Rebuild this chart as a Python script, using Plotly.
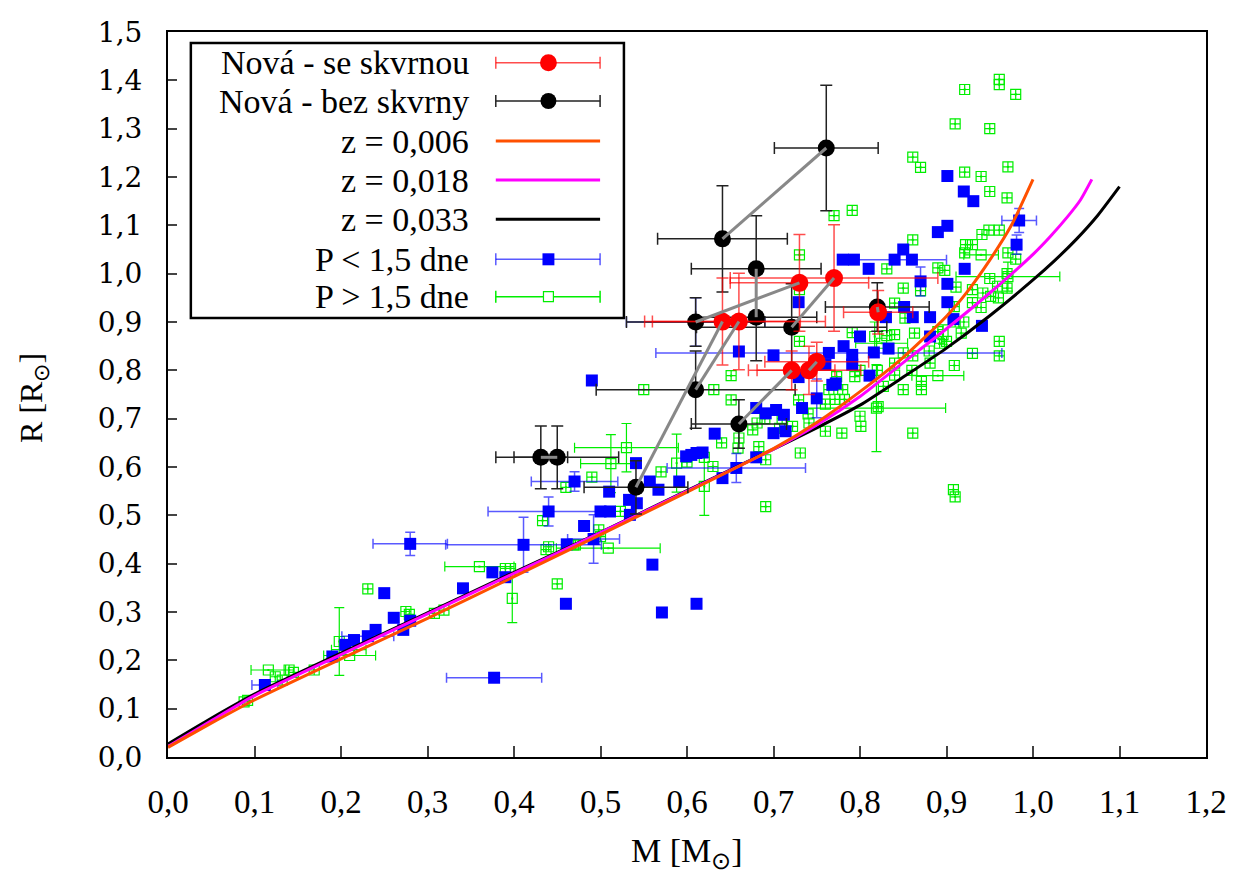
import plotly.graph_objects as go

# ---------------- data ----------------
# "Nová - se skvrnou" (red)
red_m = [0.730, 0.770, 0.641, 0.660, 0.821, 0.721, 0.741, 0.750]
red_r = [0.981, 0.991, 0.901, 0.901, 0.920, 0.800, 0.800, 0.818]
red_em = [0.08, 0.12, 0.09, 0.10, 0.04, 0.05, 0.06, 0.06]
red_er = [0.10, 0.11, 0.09, 0.10, 0.045, 0.04, 0.05, 0.04]

# "Nová - bez skvrny" (black)
blk_m = [0.761, 0.641, 0.680, 0.680, 0.610, 0.721, 0.820, 0.610, 0.660, 0.431, 0.450, 0.541]
blk_r = [1.260, 1.072, 1.010, 0.910, 0.900, 0.889, 0.931, 0.760, 0.689, 0.620, 0.620, 0.558]
blk_em = [0.06, 0.075, 0.075, 0.07, 0.08, 0.11, 0.06, 0.115, 0.055, 0.031, 0.071, 0.06]
blk_er = [0.13, 0.11, 0.11, 0.09, 0.05, 0.09, 0.05, 0.08, 0.05, 0.065, 0.065, 0.055]

# grey connections (series, index) -> (series, index)
links = [("b", 0, "b", 1), ("b", 2, "b", 3), ("b", 4, "r", 0), ("b", 5, "r", 1),
         ("r", 2, "b", 11), ("r", 3, "b", 7), ("b", 8, "r", 5), ("r", 6, "r", 7),
         ("b", 9, "b", 10), ("b", 6, "r", 4)]

# model isochrones
z006_m = [0.0, 0.05, 0.1, 0.2, 0.3, 0.4, 0.5, 0.6, 0.7, 0.75, 0.8, 0.85, 0.9, 0.925, 0.95, 0.975, 1.0]
z006_r = [0.020, 0.070, 0.118, 0.203, 0.287, 0.373, 0.460, 0.548, 0.638, 0.692, 0.756, 0.827, 0.912, 0.965, 1.028, 1.100, 1.195]
z018_m = [0.0, 0.05, 0.1, 0.2, 0.3, 0.4, 0.5, 0.6, 0.7, 0.75, 0.8, 0.85, 0.9, 0.95, 1.0, 1.02, 1.04, 1.055, 1.068]
z018_r = [0.022, 0.075, 0.127, 0.212, 0.296, 0.380, 0.464, 0.550, 0.637, 0.687, 0.746, 0.816, 0.886, 0.960, 1.040, 1.077, 1.118, 1.153, 1.195]
z033_m = [0.0, 0.05, 0.1, 0.2, 0.3, 0.4, 0.5, 0.6, 0.7, 0.75, 0.8, 0.85, 0.9, 0.95, 1.0, 1.025, 1.05, 1.075, 1.1]
z033_r = [0.027, 0.080, 0.130, 0.215, 0.298, 0.382, 0.465, 0.551, 0.637, 0.681, 0.728, 0.786, 0.846, 0.913, 0.987, 1.027, 1.071, 1.121, 1.180]

# P < 1,5 dne (blue)
blue_m = [0.112, 0.190, 0.205, 0.215, 0.231, 0.240, 0.250, 0.261, 0.272, 0.280, 0.280, 0.341, 0.375, 0.390,
          0.377, 0.411, 0.440, 0.461, 0.460, 0.470, 0.481, 0.492, 0.500, 0.511, 0.510, 0.490, 0.533, 0.542,
          0.541, 0.557, 0.560, 0.567, 0.571, 0.591, 0.599, 0.605, 0.611, 0.618, 0.611, 0.632, 0.641, 0.657,
          0.680, 0.680, 0.691, 0.700, 0.703, 0.712, 0.714, 0.660, 0.700, 0.729, 0.729, 0.733, 0.750, 0.760,
          0.764, 0.768, 0.772, 0.781, 0.791, 0.791, 0.800, 0.811, 0.816, 0.780, 0.793, 0.810, 0.833, 0.830,
          0.840, 0.850, 0.860, 0.851, 0.861, 0.870, 0.881, 0.881, 0.890, 0.901, 0.901, 0.920, 0.931, 0.901,
          0.901, 0.908, 0.921, 0.941, 0.984, 0.981, 0.610, 0.534]
blue_r = [0.149, 0.208, 0.232, 0.242, 0.250, 0.263, 0.339, 0.288, 0.263, 0.282, 0.441, 0.349, 0.382, 0.372,
          0.164, 0.439, 0.508, 0.440, 0.317, 0.570, 0.478, 0.451, 0.508, 0.508, 0.549, 0.779, 0.532, 0.525,
          0.608, 0.570, 0.398, 0.553, 0.299, 0.570, 0.622, 0.625, 0.629, 0.630, 0.317, 0.669, 0.577, 0.598,
          0.620, 0.722, 0.711, 0.670, 0.718, 0.708, 0.674, 0.839, 0.831, 0.941, 0.786, 0.722, 0.742, 0.812,
          0.836, 0.770, 0.773, 0.850, 0.832, 0.812, 0.870, 0.789, 0.837, 1.029, 1.029, 1.010, 0.845, 0.910,
          1.029, 1.050, 1.029, 0.931, 0.910, 0.984, 0.910, 0.870, 1.086, 1.099, 1.202, 1.170, 1.150, 0.979,
          0.941, 0.906, 1.010, 0.892, 1.110, 1.060, 0.900, 0.501]
blue_em = {0: 0.015, 10: 0.043, 14: 0.055, 15: 0.09, 16: 0.07, 19: 0.05, 21: 0.03, 41: 0.08, 56: 0.2,
           70: 0.06, 88: 0.02, 90: 0.08, 4: 0.03}
blue_er = {0: 0.01, 10: 0.024, 15: 0.057, 16: 0.03, 19: 0.02, 21: 0.05, 41: 0.03, 75: 0.03, 88: 0.025,
           89: 0.02, 90: 0.05, 54: 0.04}

# P > 1,5 dne (green)
green_m = [0.088, 0.092, 0.116, 0.124, 0.132, 0.140, 0.145, 0.169, 0.198, 0.209, 0.210, 0.231, 0.275, 0.279,
           0.308, 0.319, 0.360, 0.396, 0.390, 0.398, 0.433, 0.437, 0.440, 0.450, 0.469, 0.471, 0.490, 0.460,
           0.498, 0.500, 0.509, 0.512, 0.523, 0.530, 0.550, 0.588, 0.620, 0.630, 0.659, 0.683, 0.691, 0.691,
           0.676, 0.681, 0.707, 0.722, 0.731, 0.729, 0.741, 0.760, 0.631, 0.651, 0.651, 0.730, 0.730, 0.730,
           0.770, 0.791, 0.764, 0.771, 0.782, 0.773, 0.779, 0.794, 0.791, 0.800, 0.801, 0.817, 0.825, 0.821,
           0.827, 0.819, 0.831, 0.831, 0.840, 0.840, 0.840, 0.850, 0.852, 0.850, 0.850, 0.861, 0.861, 0.861,
           0.861, 0.863, 0.870, 0.870, 0.871, 0.871, 0.881, 0.890, 0.890, 0.892, 0.896, 0.898, 0.909, 0.909,
           0.910, 0.911, 0.917, 0.921, 0.921, 0.922, 0.930, 0.921, 0.930, 0.930, 0.908, 0.910, 0.940, 0.941,
           0.940, 0.942, 0.949, 0.950, 0.950, 0.951, 0.959, 0.961, 0.961, 0.961, 0.961, 0.961, 0.970, 0.971,
           0.971, 0.971, 0.980, 0.980, 0.970, 0.570, 0.600, 0.620, 0.640, 0.660, 0.690, 0.710, 0.740, 0.760,
           0.780, 0.800, 0.820, 0.840, 0.860, 0.880, 0.900, 0.920, 0.940, 0.960, 0.970, 0.950, 0.930, 0.910,
           0.890]
green_r = [0.114, 0.117, 0.180, 0.166, 0.159, 0.180, 0.175, 0.180, 0.239, 0.222, 0.210, 0.348, 0.301, 0.295,
           0.297, 0.304, 0.394, 0.390, 0.390, 0.328, 0.489, 0.429, 0.435, 0.358, 0.439, 0.439, 0.579, 0.558,
           0.470, 0.456, 0.432, 0.607, 0.508, 0.640, 0.760, 0.608, 0.560, 0.601, 0.639, 0.642, 0.615, 0.518,
           0.677, 0.691, 0.680, 0.684, 0.629, 0.739, 0.691, 0.674, 0.760, 0.789, 0.739, 0.860, 0.967, 1.039,
           1.120, 1.131, 0.760, 0.740, 0.740, 0.787, 0.670, 0.787, 0.878, 0.705, 0.684, 0.870, 0.856, 0.725,
           0.767, 0.722, 1.010, 0.872, 0.939, 0.874, 0.815, 0.970, 0.908, 0.836, 0.760, 1.070, 0.830, 0.670,
           1.241, 0.877, 1.220, 0.965, 0.777, 0.760, 0.815, 1.012, 0.789, 0.856, 0.874, 1.007, 0.932, 0.810,
           1.310, 0.972, 0.877, 1.381, 1.210, 1.060, 1.060, 1.043, 0.967, 0.835, 0.553, 0.538, 1.039, 1.081,
           1.201, 0.960, 1.090, 1.300, 1.170, 0.953, 0.974, 1.402, 1.391, 1.090, 0.860, 0.830, 1.157, 1.221,
           1.043, 0.994, 1.371, 1.030, 1.000, 0.590, 0.610, 0.620, 0.650, 0.660, 0.700, 0.700, 0.710, 0.730,
           0.760, 0.800, 0.800, 0.790, 0.800, 0.840, 0.860, 0.900, 0.930, 0.950, 0.970, 0.990, 0.940, 0.900,
           0.880]
green_em = {2: 0.02, 10: 0.03, 16: 0.04, 30: 0.06, 31: 0.035, 33: 0.06, 71: 0.08, 127: 0.06, 9: 0.02,
            68: 0.03, 110: 0.02, 92: 0.03}
green_er = {8: 0.07, 19: 0.05, 31: 0.06, 33: 0.05, 35: 0.06, 36: 0.06, 71: 0.09, 127: 0.03, 67: 0.03,
            94: 0.02}

AX_TITLE_X = "M [M<sub>⊙</sub>]"
AX_TITLE_Y = "R [R<sub>⊙</sub>]"
legend_labels = ["Nová - se skvrnou", "Nová - bez skvrny", "z = 0,006", "z = 0,018", "z = 0,033",
                 "P < 1,5 dne", "P > 1,5 dne"]

# ---------------- styles ----------------
RED, BLACK, ORANGE, MAGENTA = "#ff0000", "#000000", "#ff5000", "#ff00ff"
BLUE, GREEN, GREY = "#0000ff", "#00ee00", "#888888"
SERIF = "Liberation Serif, Times New Roman, Times, serif"
WIDE_SERIF = "DejaVu Serif, serif"


def arr(d, n):
    return [d.get(i) for i in range(n)]


fig = go.Figure()

# green open squares
fig.add_trace(go.Scatter(
    x=green_m, y=green_r, mode="markers", showlegend=False,
    marker=dict(symbol="square-open", size=10, color=GREEN, line=dict(width=1.2, color=GREEN)),
    error_x=dict(type="data", array=arr(green_em, len(green_m)), color=GREEN, thickness=1.2, width=5),
    error_y=dict(type="data", array=arr(green_er, len(green_m)), color=GREEN, thickness=1.2, width=5)))
fig.add_trace(go.Scatter(x=green_m, y=green_r, mode="markers", showlegend=False,
                         marker=dict(symbol="square", size=2, color=GREEN)))

# blue squares
fig.add_trace(go.Scatter(
    x=blue_m, y=blue_r, mode="markers", showlegend=False,
    marker=dict(symbol="square", size=12, color=BLUE, line=dict(width=0)),
    error_x=dict(type="data", array=arr(blue_em, len(blue_m)), color="rgba(0,0,255,0.65)", thickness=1.5, width=5),
    error_y=dict(type="data", array=arr(blue_er, len(blue_m)), color="rgba(0,0,255,0.65)", thickness=1.5, width=5)))

# model curves
for xs, ys, col in [(z033_m, z033_r, BLACK), (z018_m, z018_r, MAGENTA), (z006_m, z006_r, ORANGE)]:
    fig.add_trace(go.Scatter(x=xs, y=ys, mode="lines", showlegend=False,
                             line=dict(color=col, width=3, shape="spline", smoothing=0.6)))

# black points
fig.add_trace(go.Scatter(
    x=blk_m, y=blk_r, mode="markers", showlegend=False,
    marker=dict(symbol="circle", size=17, color=BLACK),
    error_x=dict(type="data", array=blk_em, color="#222222", thickness=1.5, width=6),
    error_y=dict(type="data", array=blk_er, color="#222222", thickness=1.5, width=6)))

# red points
fig.add_trace(go.Scatter(
    x=red_m, y=red_r, mode="markers", showlegend=False,
    marker=dict(symbol="circle", size=18, color=RED),
    error_x=dict(type="data", array=red_em, color="rgba(255,0,0,0.7)", thickness=1.5, width=6),
    error_y=dict(type="data", array=red_er, color="rgba(255,0,0,0.7)", thickness=1.5, width=6)))

# grey connecting lines
series = {"b": (blk_m, blk_r), "r": (red_m, red_r)}
gx, gy = [], []
for s1, i1, s2, i2 in links:
    gx += [series[s1][0][i1], series[s2][0][i2], None]
    gy += [series[s1][1][i1], series[s2][1][i2], None]
fig.add_trace(go.Scatter(x=gx, y=gy, mode="lines", showlegend=False,
                         line=dict(color=GREY, width=3)))

# ---------------- layout ----------------
W, H = 1239, 876
L, R, T, B = 168, 26, 32, 119
PW, PH = W - L - R, H - T - B


def px(x):
    return (x - L) / PW


def py(y):
    return (H - B - y) / PH


shapes = []
annots = []
# legend box
shapes.append(dict(type="rect", xref="paper", yref="paper", x0=px(191), x1=px(627), y0=py(43), y1=py(318),
                   line=dict(color="black", width=2.5), fillcolor="white", layer="above"))
row_y = [62.7, 101, 141, 180, 219.3, 259.3, 296.7]
sx0, sx1, sxc = 498, 603, 551
styles = [("err", "rgba(255,0,0,0.7)", "circle", RED, 17),
          ("err", "#222222", "circle", BLACK, 16),
          ("line", ORANGE, None, None, 0),
          ("line", MAGENTA, None, None, 0),
          ("line", BLACK, None, None, 0),
          ("err", "rgba(0,0,255,0.65)", "square", BLUE, 12),
          ("err", GREEN, "open", GREEN, 10)]
for yc, lab, (kind, lcol, mk, mcol, msz) in zip(row_y, legend_labels, styles):
    annots.append(dict(xref="paper", yref="paper", x=px(473), y=py(yc), text=lab, showarrow=False,
                       xanchor="right", yanchor="middle",
                       font=dict(family=SERIF, size=34, color="black")))
    if kind == "line":
        shapes.append(dict(type="line", xref="paper", yref="paper", x0=px(sx0), x1=px(sx1), y0=py(yc), y1=py(yc),
                           line=dict(color=lcol, width=3), layer="above"))
    else:
        shapes.append(dict(type="line", xref="paper", yref="paper", x0=px(sx0), x1=px(sx1), y0=py(yc), y1=py(yc),
                           line=dict(color=lcol, width=1.5), layer="above"))
        for cx in (sx0, sx1):
            shapes.append(dict(type="line", xref="paper", yref="paper", x0=px(cx), x1=px(cx), y0=py(yc - 6),
                               y1=py(yc + 6), line=dict(color=lcol, width=1.5), layer="above"))
        h = msz / 2
        if mk == "circle":
            shapes.append(dict(type="circle", xref="paper", yref="paper", x0=px(sxc - h), x1=px(sxc + h),
                               y0=py(yc + h), y1=py(yc - h), fillcolor=mcol, line=dict(width=0), layer="above"))
        elif mk == "square":
            shapes.append(dict(type="rect", xref="paper", yref="paper", x0=px(sxc - h), x1=px(sxc + h),
                               y0=py(yc + h), y1=py(yc - h), fillcolor=mcol, line=dict(width=0), layer="above"))
        else:
            shapes.append(dict(type="rect", xref="paper", yref="paper", x0=px(sxc - h), x1=px(sxc + h),
                               y0=py(yc + h), y1=py(yc - h), fillcolor="white",
                               line=dict(color=mcol, width=1.2), layer="above"))

# axis titles
annots.append(dict(xref="paper", yref="paper", x=px(690), y=py(853), text=AX_TITLE_X, showarrow=False,
                   xanchor="center", yanchor="middle", font=dict(family=SERIF, size=34, color="black")))
annots.append(dict(xref="paper", yref="paper", x=px(33), y=py(398), text=AX_TITLE_Y, showarrow=False,
                   textangle=-90, xanchor="center", yanchor="middle",
                   font=dict(family=SERIF, size=32, color="black")))

fig.update_layout(
    width=W, height=H, margin=dict(l=L, r=R, t=T, b=B),
    paper_bgcolor="white", plot_bgcolor="white", separators=", ",
    showlegend=False, shapes=shapes, annotations=annots,
    xaxis=dict(range=[0, 1.2], dtick=0.1, tick0=0, tickformat=".1f", showgrid=False, zeroline=False,
               showline=True, linecolor="black", linewidth=2, mirror=True,
               ticks="inside", ticklen=11, tickcolor="#444444", tickwidth=1.5,
               ticklabelstandoff=14,
               tickfont=dict(family=SERIF, size=33, color="black")),
    yaxis=dict(range=[0, 1.5], dtick=0.1, tick0=0, tickformat=".1f", showgrid=False, zeroline=False,
               showline=True, linecolor="black", linewidth=2, mirror=True,
               ticks="inside", ticklen=9, tickcolor="#444444", tickwidth=1.5,
               ticklabelstandoff=18,
               tickfont=dict(family=WIDE_SERIF, size=28, color="black")),
)

fig.write_html("out.html")
